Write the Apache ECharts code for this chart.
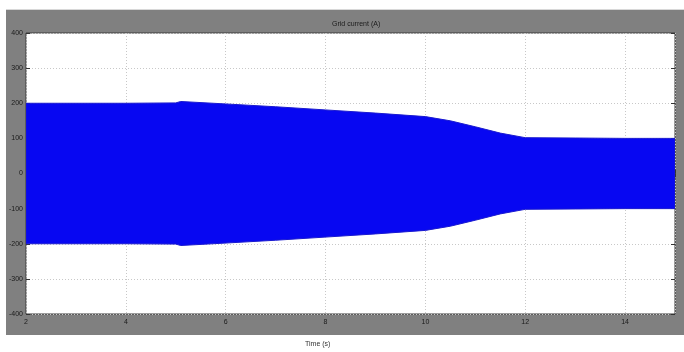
<!DOCTYPE html>
<html>
<head>
<meta charset="utf-8">
<script src="https://cdn.jsdelivr.net/npm/echarts@6/dist/echarts.min.js"></script>
<style>
html,body{margin:0;padding:0;background:#fff;}
#c{width:684px;height:352px;}
</style>
</head>
<body>
<div id="c"></div>
<script>
// Envelope of the grid current (peak amplitude, A)
var timeS = [2, 3, 4, 5, 5.1, 6, 7, 8, 9, 10, 10.5, 11, 11.5, 12, 13, 14, 15];
var peakA = [200, 200, 200, 201, 205, 198, 190, 181, 172, 162, 150, 133, 115, 102, 101, 100, 100];
var xTicks = [2, 4, 6, 8, 10, 12, 14];
var yTicks = [-400, -300, -200, -100, 0, 100, 200, 300, 400];
var titleText = 'Grid current (A)';
var xLabel = 'Time (s)';

var envData = timeS.map(function (t, i) { return [t, peakA[i]]; });

var font = 'Liberation Sans Narrow, Liberation Sans, sans-serif';
var chart = echarts.init(document.getElementById('c'), null, {renderer: 'canvas'});

function renderBand(params, api) {
  if (params.dataIndex !== 0) return null;
  var top = [], bot = [];
  for (var i = 0; i < envData.length; i++) {
    top.push(api.coord([envData[i][0], envData[i][1]]));
    bot.push(api.coord([envData[i][0], -envData[i][1]]));
  }
  var pts = top.concat(bot.reverse());
  return {
    type: 'group',
    children: [{
      type: 'polygon',
      shape: {points: pts},
      style: {fill: '#0707f2', stroke: '#1a1ad0', lineWidth: 1}
    }]
  };
}

chart.setOption({
  animation: false,
  graphic: [
    {type: 'rect', z: -10, shape: {x: 6, y: 10, width: 678, height: 325}, style: {fill: '#808080'}},
    {type: 'line', z: -9, shape: {x1: 6, y1: 9.5, x2: 684, y2: 9.5}, style: {stroke: '#d8d8d8', lineWidth: 1}},
    {type: 'text', left: 332, top: 21, style: {text: titleText, fill: '#1a1a1a', font: '7px ' + font}},
    {type: 'text', left: 305, top: 341, style: {text: xLabel, fill: '#333', font: '7px ' + font}}
  ],
  grid: {left: 26, right: 9, top: 33, bottom: 38,
         show: true, backgroundColor: '#ffffff', borderColor: '#3a3a3a', borderWidth: 1},
  xAxis: [{
    type: 'value', min: 2, max: 15, interval: 2,
    axisLine: {show: false},
    axisTick: {show: true, inside: true, length: 4, lineStyle: {color: '#333'}},
    axisLabel: {color: '#1a1a1a', fontSize: 7, fontFamily: font, margin: 5,
      formatter: function (v) { return xTicks.indexOf(v) >= 0 ? String(v) : ''; }},
    splitLine: {show: true, lineStyle: {color: '#c8c8c8', type: [1, 2], width: 1}}
  }, {
    type: 'value', position: 'top', min: 2, max: 15, interval: 2,
    axisLine: {show: false},
    axisTick: {show: true, inside: true, length: 4, lineStyle: {color: '#333'}},
    axisLabel: {show: false}, splitLine: {show: false}
  }],
  yAxis: [{
    type: 'value', min: -400, max: 400, interval: 100,
    axisLine: {show: false},
    axisTick: {show: true, inside: true, length: 4, lineStyle: {color: '#333'}},
    axisLabel: {color: '#1a1a1a', fontSize: 7, fontFamily: font, margin: 3,
      formatter: function (v) { return yTicks.indexOf(v) >= 0 ? String(v) : ''; }},
    splitLine: {show: true, lineStyle: {color: '#c8c8c8', type: [1, 2], width: 1}}
  }, {
    type: 'value', position: 'right', min: -400, max: 400, interval: 100,
    axisLine: {show: false},
    axisTick: {show: true, inside: true, length: 4, lineStyle: {color: '#333'}},
    axisLabel: {show: false}, splitLine: {show: false}
  }],
  series: [{
    type: 'custom',
    xAxisIndex: 0, yAxisIndex: 0,
    data: envData,
    encode: {x: 0, y: 1},
    clip: true,
    renderItem: renderBand
  }]
});
</script>
</body>
</html>
